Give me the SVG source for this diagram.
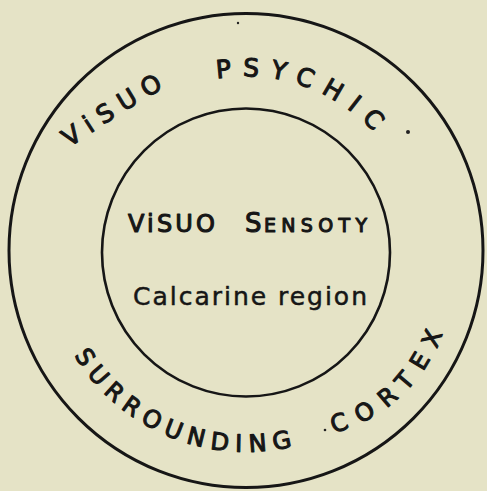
<svg xmlns="http://www.w3.org/2000/svg" width="487" height="491" viewBox="0 0 487 491">
  <style>
    .ring { fill: none; stroke: #161616; stroke-linecap: round; }
    .hand { font-family: "DejaVu Sans", "Liberation Sans", sans-serif; fill: #161616; stroke: #161616; stroke-width: 1.1; stroke-linejoin: round; }
    .thin { stroke-width: 0.5; }
    .dot { fill: #222; }
  </style>
  <defs>
    <path id="p-visuo" d="M 44.9,164.8 Q 118,112 197.5,69.4"/>
    <path id="p-psychic" d="M 134.8,116.5 A 174.5 174.5 0 0 1 418.1,221.9"/>
    <path id="p-surr" d="M 45.1,245 A 201 201 0 0 0 396.1,384.7"/>
    <path id="p-cortex" d="M 211.4,415.9 A 159.7 159.7 0 0 0 432,200.2"/>
  </defs>
  <rect width="487" height="491" fill="#e5e3c6"/>

  <g id="outer-ring">
    <circle class="ring" cx="246" cy="250.5" r="237" stroke-width="3"/>
    <text class="hand" font-size="25" letter-spacing="8.6" text-anchor="middle"><textPath href="#p-visuo" startOffset="50%">ViSUO</textPath></text>
    <text class="hand" font-size="25" letter-spacing="11" text-anchor="middle"><textPath href="#p-psychic" startOffset="50%">PSYCHIC</textPath></text>
    <circle class="dot" cx="408" cy="132" r="2"/>
    <circle class="dot" cx="238" cy="23" r="1.2"/>
    <text class="hand" font-size="24" letter-spacing="7" text-anchor="middle"><textPath href="#p-surr" startOffset="50%">SURROUNDING</textPath></text>
    <circle class="dot" cx="325" cy="430" r="1.3"/>
    <text class="hand" font-size="24" letter-spacing="11.2" text-anchor="middle"><textPath href="#p-cortex" startOffset="50%">CORTEX</textPath></text>
  </g>

  <g id="inner-circle">
    <circle class="ring" cx="246" cy="252.5" r="144" stroke-width="2.6"/>
    <text class="hand" y="232">
      <tspan x="128" font-size="24" textLength="87" lengthAdjust="spacing">ViSUO</tspan>
      <tspan x="245" font-size="26">S</tspan><tspan font-size="19" x="264" textLength="103" lengthAdjust="spacing">ENSOTY</tspan>
    </text>
    <text class="hand thin" x="133" y="305" font-size="25" textLength="234" lengthAdjust="spacing">Calcarine region</text>
  </g>
</svg>
